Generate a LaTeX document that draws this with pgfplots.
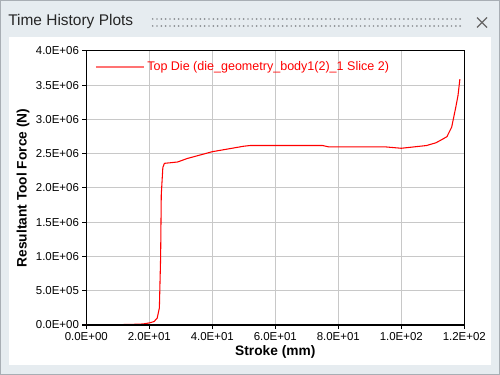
\documentclass[border=0pt]{standalone}
\usepackage{pgfplots}
\pgfplotsset{compat=1.18}
\usepackage{fontspec}
\setmainfont{Liberation Sans}
\definecolor{bgcol}{HTML}{E6ECF0}
\definecolor{bordercol}{HTML}{A8AEB4}
\definecolor{gridcol}{HTML}{C8C8C8}
\definecolor{dotcol}{HTML}{8C9094}
\begin{document}
\begin{tikzpicture}[x=0.75pt,y=0.75pt]
\fill[bgcol] (0,0) rectangle (500,375);
\draw[bordercol,line width=0.75pt] (0.5,0.5) rectangle (499.5,374.5);
\fill[white] (9,10) rectangle (491,338);
\node[anchor=west,inner sep=0pt,font=\fontsize{11.6}{13}\selectfont,text=black!85] at (8,353) {Time History Plots};
\foreach \i in {0,...,71}{
  \fill[dotcol] (152.7+\i*4.33,356) circle (0.95);
  \fill[dotcol] (152.7+\i*4.33,349) circle (0.95);
}
\draw[black!60,line width=0.9pt] (477,347.5) -- (487,357.5) (477,357.5) -- (487,347.5);
\begin{axis}[
  at={(64.725pt,37.5pt)}, anchor=south west,
  scale only axis, width=283.5pt, height=205.5pt,
  xmin=0, xmax=120, ymin=0, ymax=4,
  xtick={0,20,40,60,80,100,120},
  xticklabels={0.0E+00,2.0E+01,4.0E+01,6.0E+01,8.0E+01,1.0E+02,1.2E+02},
  ytick={0,0.5,1,1.5,2,2.5,3,3.5,4},
  yticklabels={0.0E+00,5.0E+05,1.0E+06,1.5E+06,2.0E+06,2.5E+06,3.0E+06,3.5E+06,4.0E+06},
  scaled ticks=false,
  tick label style={font=\fontsize{8.6}{10}\selectfont},
  xticklabel style={yshift=1pt},
  yticklabel style={xshift=1pt},
  tick align=outside, tick pos=left,
  major tick length=3pt,
  tick style={black, line width=0.75pt},
  grid=major,
  major grid style={gridcol, line width=0.75pt},
  axis line style={black, line width=0.75pt},
  xlabel={\bfseries Stroke (mm)},
  ylabel={\bfseries Resultant Tool Force (N)},
  label style={font=\fontsize{10.3}{12}\selectfont},
  xlabel style={yshift=3pt},
  ylabel style={yshift=-2pt},
  legend style={draw=none, fill=none, at={(axis description cs:0.023,0.942)}, anchor=west,
    inner xsep=0pt, inner ysep=0pt, font=\fontsize{9.4}{11}\selectfont, text=red},
  legend cell align=left,
  legend image code/.code={\draw[#1] (0pt,0pt) -- (36pt,0pt);},
]
\addplot[red, line width=0.8pt, forget plot] coordinates {
(0,0) (10,0.005) (15,0.01) (18,0.015) (20,0.03) (21.5,0.05) (22.5,0.1) (23.2,0.25)
(23.6,1.0) (23.8,1.9) (24.3,2.3) (24.8,2.36) (27,2.37) (29,2.38) (32,2.43) (36,2.48)
(40,2.53) (45,2.57) (50,2.61) (52,2.62) (75,2.62) (77,2.60) (90,2.60) (95,2.60)
(100,2.58) (104,2.60) (108,2.62) (111,2.66) (113,2.71) (114.5,2.75) (116,2.89)
(117.3,3.18) (118,3.35) (118.6,3.59)
};
\addlegendimage{red!55, line width=1pt}
\addlegendentry{Top Die (die\_geometry\_body1(2)\_1 Slice 2)}
\draw[black, line width=1.5pt] (rel axis cs:0,1) -- (rel axis cs:0,0) -- (rel axis cs:1,0);
\end{axis}
\end{tikzpicture}
\end{document}
